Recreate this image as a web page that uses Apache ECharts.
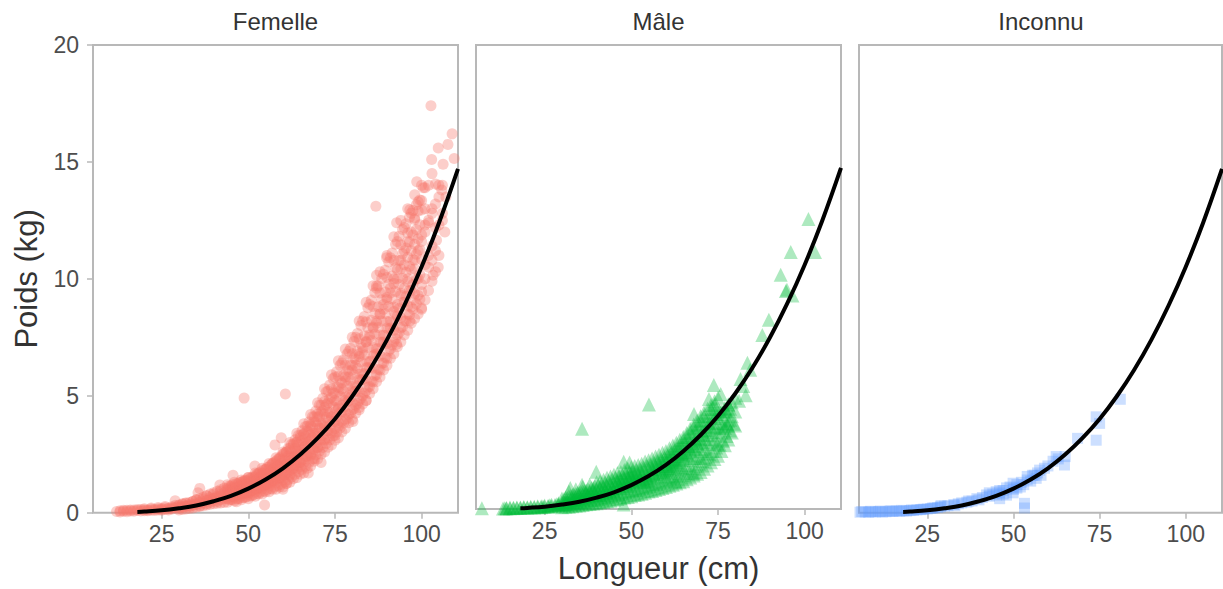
<!DOCTYPE html>
<html>
<head>
<meta charset="utf-8">
<script src="https://cdn.jsdelivr.net/npm/echarts@6/dist/echarts.min.js"></script>
<style>
html,body{margin:0;padding:0;background:#fff;}
#chart{width:1223px;height:589px;}
</style>
</head>
<body>
<div id="chart"></div>
<script>
// ---- Data ----
const facets = ['Femelle', 'Mâle', 'Inconnu'];
const xTicks = [25, 50, 75, 100];

// Fitted length-weight curve
const curveL = [18, 20, 25, 30, 35, 40, 45, 50, 55, 60, 65, 70, 75, 80, 85, 90, 95, 100, 105, 110.5];
const curveW = [0.035, 0.048, 0.10, 0.19, 0.31, 0.49, 0.72, 1.03, 1.42, 1.90, 2.49, 3.19, 4.01, 4.98, 6.10, 7.39, 8.86, 10.52, 12.39, 14.7];

// Femelle points [longueur, poids]
const femelle = [
[12,0.05],[13,0.08],[14,0.06],[15,0.1],[16,0.07],[17,0.12],[18,0.09],[19,0.14],[20,0.08],[20,0.17],
[21,0.12],[22,0.1],[22,0.2],[23,0.15],[24,0.12],[24,0.22],[25,0.1],[25,0.18],[26,0.14],[26,0.26],
[27,0.2],[27,0.12],[28,0.25],[28,0.16],[28.9,0.51],[29,0.2],[29,0.32],[30,0.18],[30,0.3],[31,0.22],
[31,0.38],[32,0.28],[32,0.42],[33,0.25],[33,0.35],[34,0.3],[34,0.48],[35,0.35],[35,0.55],[35.5,0.85],
[36,0.3],[36,0.45],[36,1.04],[37,0.4],[37,0.6],[38,0.38],[38,0.52],[38,0.72],[39,0.45],[39,0.65],
[40,0.5],[40,0.62],[40,0.8],[41,0.48],[41,0.7],[41.8,1.18],[42,0.55],[42,0.78],[42,0.92],[43,0.6],
[43,0.85],[44,0.62],[44,0.75],[44,0.98],[45,0.7],[45,0.9],[45,1.1],[45.6,1.6],[46,0.68],[46,0.85],
[46,1.05],[46.6,0.47],[47,0.78],[47,0.95],[47,1.2],[48,0.82],[48,1.05],[48,1.3],[48.8,4.9],[49,0.88],
[49,1.12],[49,1.4],[50,0.85],[50,1.0],[50,1.2],[50,1.5],[51,0.95],[51,1.15],[51,1.4],[51.9,2.0],
[52,1.0],[52,1.25],[52,1.55],[53,1.1],[53,1.35],[53,1.7],[54,1.15],[54,1.4],[54,1.7],[54.7,0.33],
[55,1.2],[55,1.5],[55,1.85],[56,1.3],[56,1.6],[56,1.95],[57,1.4],[57,1.7],[57,2.1],[57.7,2.9],
[58,1.45],[58,1.8],[58,2.2],[59,1.5],[59,1.9],[59,2.35],[59.5,3.2],[60,1.0],[60,1.6],[60,2.0],
[60,2.5],[60.7,5.08],[61,1.25],[61,1.7],[61,2.1],[61,2.6],[62,1.6],[62,1.8],[62,2.2],[62,2.75],
[63,1.9],[63,2.35],[63,2.9],[64,2.0],[64,2.5],[64,3.0],[65,1.95],[65,2.15],[65,2.6],[65,3.2],
[66,2.3],[66,2.8],[66,3.35],[67,2.4],[67,2.95],[67,3.5],[67.3,1.7],[68,2.5],[68,3.1],[68,3.7],
[69,2.3],[69,2.7],[69,3.3],[69,3.9],[70,2.8],[70,3.4],[70,4.1],[71,2.9],[71,2.15],[71,3.6],
[71,4.3],[72,3.1],[72,3.75],[72,4.5],[73,3.2],[73,3.95],[73,4.7],[74,3.4],[74,4.1],[74,4.95],
[75,3.3],[75,3.6],[75,4.3],[75,5.1],[76,3.7],[76,4.45],[76,5.35],[77,3.9],[77,4.6],[77,5.55],
[78,4.0],[78,4.8],[78,5.8],[79,4.2],[79,5.0],[79,6.05],[80,4.4],[80,5.2],[80,6.3],[80.2,3.9],
[81,4.6],[81,5.45],[81,6.55],[82,4.5],[82,4.8],[82,5.7],[82,6.8],[83,5.0],[83,5.95],[83,7.05],
[84,4.8],[84,5.2],[84,6.2],[84,7.3],[85,5.4],[85,6.45],[85,7.6],[86,5.6],[86,6.7],[86,7.9],
[87,5.9],[87,7.0],[87,8.2],[87,9.7],[87,10.15],[86.8,13.1],[88,6.1],[88,7.3],[88,8.5],[89,6.4],
[89,7.6],[89,8.9],[89.9,10.9],[90,6.6],[90,7.9],[90,9.2],[91,7.0],[91,8.2],[91,9.6],[92,7.3],
[92,8.6],[92,10.0],[92.8,7.2],[92.8,12.4],[93,7.6],[93,8.9],[93,10.4],[94,7.9],[94,9.3],[94,10.8],
[95,8.2],[95,9.6],[95,11.2],[96,8.5],[96,10.0],[96,11.6],[96.6,8.2],[96.6,12.95],[97,8.8],[97,10.4],
[97,12.0],[98,9.1],[98,10.8],[98,12.6],[98.6,14.15],[99,9.3],[99,11.2],[99,12.9],[100,8.75],[100,9.45],
[100,11.6],[100,13.35],[100.5,13.9],[101,10.0],[101,12.0],[101,13.0],[102,10.5],[102,12.4],[102.7,17.4],[102.9,15.1],
[103,10.8],[103,12.8],[103.3,10.15],[104,11.2],[104,13.2],[104.3,11.65],[104.8,15.6],[104.8,10.5],[105,12.3],[105,14.0],
[105.8,13.8],[106,12.8],[106.2,14.9],[106.7,12.0],[107,13.5],[107.6,15.75],[108.8,16.2],[109.4,15.15],
[13,0.03],[15,0.04],[17,0.06],[19,0.07],[21,0.08],[23,0.09],[25,0.14],[27,0.16],[29,0.24],[14,0.1],
[16,0.12],[18,0.14],[20,0.13],[22,0.16],[24,0.17],[26,0.21],[28,0.2],
[30,0.12],[30,0.22],[30,0.33],[31,0.14],[31,0.25],[31,0.36],[32,0.16],[32,0.28],[32,0.4],[33,0.18],
[33,0.3],[33,0.44],[34,0.2],[34,0.34],[34,0.48],[35,0.24],[35,0.38],[35,0.55],[36,0.27],[36,0.42],
[36,0.6],[37,0.3],[37,0.47],[37,0.66],[38,0.33],[38,0.52],[38,0.72],[39,0.36],[39,0.57],[39,0.8],
[40,0.38],[40,0.6],[40,0.85],[41,0.4],[41,0.65],[41,0.92],[42,0.42],[42,0.7],[42,0.98],[43,0.44],
[43,0.75],[43,1.05],
[44,0.45],[44,0.6],[44,0.75],[44,0.9],[44,1.05],[44,1.2],[45,0.55],[45,0.75],[45,0.95],[45,1.15],
[46,0.5],[46,0.66],[46,0.82],[46,0.98],[46,1.14],[46,1.3],[47,0.6],[47,0.8],[47,1.0],[47,1.25],
[48,0.55],[48,0.72],[48,0.89],[48,1.06],[48,1.23],[48,1.4],[49,0.65],[49,0.85],[49,1.1],[49,1.35],
[50,0.6],[50,0.78],[50,0.96],[50,1.14],[50,1.32],[50,1.5],[51,0.72],[51,0.95],[51,1.2],[51,1.5],
[52,0.7],[52,0.9],[52,1.1],[52,1.3],[52,1.5],[52,1.7],[53,0.8],[53,1.05],[53,1.35],[53,1.65],
[54,0.8],[54,1.02],[54,1.24],[54,1.46],[54,1.68],[54,1.9],[55,0.9],[55,1.2],[55,1.5],[55,1.85],
[56,0.9],[56,1.14],[56,1.38],[56,1.62],[56,1.86],[56,2.1],[57,1.0],[57,1.35],[57,1.7],[57,2.1],
[58,1.0],[58,1.27],[58,1.54],[58,1.81],[58,2.08],[58,2.35],[59,1.1],[59,1.45],[59,1.85],[59,2.3],
[60,1.1],[60,1.4],[60,1.7],[60,2.0],[60,2.3],[60,2.6],[61,1.25],[61,1.65],[61,2.05],[61,2.6],
[62,1.3],[62,1.64],[62,1.98],[62,2.32],[62,2.66],[62,3.0],[63,1.45],[63,1.9],[63,2.4],[63,2.95],
[64,1.5],[64,1.88],[64,2.26],[64,2.64],[64,3.02],[64,3.4],[65,1.65],[65,2.15],[65,2.7],[65,3.3],
[66,1.7],[66,2.12],[66,2.54],[66,2.96],[66,3.38],[66,3.8],[67,1.9],[67,2.45],[67,3.05],[67,3.7],
[68,2.0],[68,2.44],[68,2.88],[68,3.32],[68,3.76],[68,4.2],[69,2.2],[69,2.75],[69,3.4],[69,4.1],
[70,2.3],[70,2.78],[70,3.26],[70,3.74],[70,4.22],[70,4.7],[71,2.5],[71,3.1],[71,3.8],[71,4.6],
[72,2.6],[72,3.14],[72,3.68],[72,4.22],[72,4.76],[72,5.3],[73,2.8],[73,3.5],[73,4.3],[73,5.2],
[74,2.9],[74,3.5],[74,4.1],[74,4.7],[74,5.3],[74,5.9],[75,3.1],[75,3.9],[75,4.8],[75,5.8],
[76,3.2],[76,3.86],[76,4.52],[76,5.18],[76,5.84],[76,6.5],[77,3.45],[77,4.3],[77,5.3],[77,6.4],
[78,3.6],[78,4.28],[78,4.96],[78,5.64],[78,6.32],[78,7.0],[79,3.85],[79,4.8],[79,5.8],[79,6.9],
[80,4.0],[80,4.7],[80,5.4],[80,6.1],[80,6.8],[80,7.5],[81,4.25],[81,5.2],[81,6.3],[81,7.5],
[82,4.4],[82,5.16],[82,5.92],[82,6.68],[82,7.44],[82,8.2],[83,4.65],[83,5.7],[83,6.9],[83,8.2],
[84,4.8],[84,5.64],[84,6.48],[84,7.32],[84,8.16],[84,9.0],[85,5.1],[85,6.2],[85,7.5],[85,8.9],
[86,5.3],[86,6.18],[86,7.06],[86,7.94],[86,8.82],[86,9.7],[87,5.6],[87,6.8],[87,8.1],[87,9.6],
[88,5.8],[88,6.7],[88,7.6],[88,8.5],[88,9.4],[88,10.3],[89,6.1],[89,7.3],[89,8.7],[89,10.2],
[90,6.3],[90,7.24],[90,8.18],[90,9.12],[90,10.06],[90,11.0],[91,6.6],[91,7.9],[91,9.4],[91,10.9],
[92,6.8],[92,7.8],[92,8.8],[92,9.8],[92,10.8],[92,11.8],[93,7.1],[93,8.4],[93,10.0],[93,11.6],
[94,7.3],[94,8.34],[94,9.38],[94,10.42],[94,11.46],[94,12.5],[95,7.6],[95,9.0],[95,10.6],[95,12.2],
[96,7.8],[96,8.84],[96,9.88],[96,10.92],[96,11.96],[96,13.0],[97,8.1],[97,9.5],[97,11.2],[97,12.8],
[98,8.3],[98,9.36],[98,10.42],[98,11.48],[98,12.54],[98,13.6],[99,8.5],[99,10.0],[99,11.7],[99,13.3],
[100,8.7],[100,9.76],[100,10.82],[100,11.88],[100,12.94],[100,14.0],[101,9.1],[101,10.6],[101,12.3],[101,13.9],
[102,9.5],[102,11.0],[102,12.5],[102,14.0],[103,9.9],[103,11.4],[103,13.0],[103,14.5],
[104,10.3],[104,12.18],[104,14.06],[105,11.0],[105,13.5],[106,12.5],[106,14.0],
[44.5,0.54],[44.5,0.69],[44.5,0.84],[44.5,0.99],[44.5,1.14],[45.5,0.57],[45.5,0.72],[45.5,0.88],[45.5,1.04],[45.5,1.19],
[46.5,0.59],[46.5,0.75],[46.5,0.92],[46.5,1.08],[46.5,1.24],[47.5,0.62],[47.5,0.79],[47.5,0.96],[47.5,1.12],[47.5,1.29],
[48.5,0.65],[48.5,0.82],[48.5,0.99],[48.5,1.16],[48.5,1.33],[49.5,0.68],[49.5,0.85],[49.5,1.03],[49.5,1.21],[49.5,1.38],
[50.5,0.71],[50.5,0.9],[50.5,1.09],[50.5,1.27],[50.5,1.46],[51.5,0.77],[51.5,0.96],[51.5,1.16],[51.5,1.36],[51.5,1.55],
[52.5,0.82],[52.5,1.03],[52.5,1.24],[52.5,1.44],[52.5,1.65],[53.5,0.88],[53.5,1.09],[53.5,1.31],[53.5,1.53],[53.5,1.74],
[54.5,0.93],[54.5,1.16],[54.5,1.39],[54.5,1.61],[54.5,1.84],[55.5,0.99],[55.5,1.22],[55.5,1.46],[55.5,1.7],[55.5,1.93],
[56.5,1.04],[56.5,1.29],[56.5,1.54],[56.5,1.79],[56.5,2.04],[57.5,1.1],[57.5,1.37],[57.5,1.63],[57.5,1.9],[57.5,2.16],
[58.5,1.16],[58.5,1.44],[58.5,1.72],[58.5,2.0],[58.5,2.27],[59.5,1.22],[59.5,1.51],[59.5,1.81],[59.5,2.1],[59.5,2.39],
[60.5,1.31],[60.5,1.62],[60.5,1.93],[60.5,2.24],[60.5,2.55],[61.5,1.42],[61.5,1.75],[61.5,2.08],[61.5,2.41],[61.5,2.74],
[62.5,1.53],[62.5,1.88],[62.5,2.23],[62.5,2.58],[62.5,2.93],[63.5,1.64],[63.5,2.01],[63.5,2.38],[63.5,2.75],[63.5,3.12],
[64.5,1.75],[64.5,2.14],[64.5,2.53],[64.5,2.92],[64.5,3.31],[65.5,1.86],[65.5,2.27],[65.5,2.68],[65.5,3.09],[65.5,3.5],
[66.5,1.99],[66.5,2.41],[66.5,2.84],[66.5,3.26],[66.5,3.69],[67.5,2.15],[67.5,2.58],[67.5,3.02],[67.5,3.45],[67.5,3.88],
[68.5,2.3],[68.5,2.75],[68.5,3.2],[68.5,3.65],[68.5,4.1],[69.5,2.47],[69.5,2.94],[69.5,3.41],[69.5,3.88],[69.5,4.35],
[70.5,2.63],[70.5,3.12],[70.5,3.62],[70.5,4.11],[70.5,4.6],[71.5,2.79],[71.5,3.32],[71.5,3.84],[71.5,4.36],[71.5,4.89],
[72.5,2.96],[72.5,3.51],[72.5,4.07],[72.5,4.62],[72.5,5.17],[73.5,3.12],[73.5,3.71],[73.5,4.29],[73.5,4.87],[73.5,5.46],
[74.5,3.29],[74.5,3.9],[74.5,4.52],[74.5,5.13],[74.5,5.74],[75.5,3.45],[75.5,4.1],[75.5,4.74],[75.5,5.38],[75.5,6.03],
[76.5,3.63],[76.5,4.3],[76.5,4.97],[76.5,5.63],[76.5,6.3],[77.5,3.84],[77.5,4.51],[77.5,5.19],[77.5,5.87],[77.5,6.54],
[78.5,4.04],[78.5,4.73],[78.5,5.42],[78.5,6.1],[78.5,6.79],[79.5,4.25],[79.5,4.94],[79.5,5.64],[79.5,6.33],[79.5,7.03],
[80.5,4.46],[80.5,5.17],[80.5,5.89],[80.5,6.61],[80.5,7.32],[81.5,4.67],[81.5,5.42],[81.5,6.17],[81.5,6.91],[81.5,7.66],
[82.5,4.89],[82.5,5.67],[82.5,6.45],[82.5,7.23],[82.5,8.01],[83.5,5.11],[83.5,5.93],[83.5,6.75],[83.5,7.57],[83.5,8.39],
[84.5,5.36],[84.5,6.21],[84.5,7.06],[84.5,7.91],[84.5,8.76],[85.5,5.62],[85.5,6.49],[85.5,7.36],[85.5,8.23],[85.5,9.1],
[86.5,5.87],[86.5,6.76],[86.5,7.64],[86.5,8.52],[86.5,9.41],[87.5,6.13],[87.5,7.02],[87.5,7.92],[87.5,8.81],[87.5,9.7],
[88.5,6.39],[88.5,7.29],[88.5,8.2],[88.5,9.11],[88.5,10.02],[89.5,6.65],[89.5,7.58],[89.5,8.51],[89.5,9.44],[89.5,10.37],
[90.5,6.91],[90.5,7.86],[90.5,8.82],[90.5,9.77],[90.5,10.72],[91.5,7.17],[91.5,8.16],[91.5,9.14],[91.5,10.12],[91.5,11.11],
[92.5,7.44],[92.5,8.45],[92.5,9.46],[92.5,10.47],[92.5,11.48],[93.5,7.7],[93.5,8.73],[93.5,9.76],[93.5,10.79],[93.5,11.82],
[94.5,7.95],[94.5,8.99],[94.5,10.03],[94.5,11.07],[94.5,12.11],[95.5,8.2],[95.5,9.24],[95.5,10.28],[95.5,11.32],[95.5,12.36],
[96.5,8.45],[96.5,9.5],[96.5,10.54],[96.5,11.58],[96.5,12.63],[97.5,8.71],[97.5,9.76],[97.5,10.82],[97.5,11.87],[97.5,12.92],
[98.5,8.93],[98.5,9.99],[98.5,11.05],[98.5,12.11],[98.5,13.17],[99.5,9.13],[99.5,10.19],[99.5,11.25],[99.5,12.31],[99.5,13.37]
];

// Mâle points [longueur, poids]
const male = [
[6.9,0.03],[13,0.02],[14,0.04],[15,0.03],[16,0.05],[17,0.04],[18,0.06],[19,0.05],[20,0.08],[21,0.06],
[22,0.1],[23,0.08],[24,0.12],[25,0.1],[26,0.14],[27,0.12],[28,0.18],[29,0.15],[29,0.25],[30,0.2],
[30,0.3],[31,0.22],[31,0.35],[32,0.28],[32.4,0.9],[33,0.3],[33,0.42],[34,0.35],[34,0.5],[35,0.38],
[35,0.55],[35.8,3.46],[35.8,1.04],[36,0.42],[36,0.6],[37,0.45],[37,0.65],[38,0.5],[38,0.72],[39,0.55],
[39,0.8],[39.9,1.61],[40,0.6],[40,0.85],[41,0.62],[41,0.9],[42,0.68],[42,0.95],[43,0.72],[43,1.0],
[44,0.75],[44,1.05],[45,0.8],[45,1.1],[46,0.85],[46,1.15],[47,0.9],[47,1.2],[47.8,2.04],[47.8,0.19],
[48,0.92],[48,1.25],[49,0.98],[49,1.3],[49.5,2.0],[50,1.0],[50,1.35],[50,1.55],[51,1.05],[51,1.4],
[52,1.1],[52,1.45],[53,1.15],[53,1.5],[54,1.2],[54,1.6],[55,1.25],[55,1.7],[55.1,4.5],[56,1.3],
[56,1.75],[57,1.35],[57,1.85],[58,1.4],[58,1.95],[59,1.5],[59,2.05],[60,1.4],[60,1.6],[60,2.15],
[61,1.55],[61,1.75],[61,2.3],[62,1.65],[62,1.9],[62,2.45],[62.8,1.18],[63,1.7],[63,2.0],[63,2.6],
[64,1.8],[64,2.15],[64,2.75],[65,1.75],[65,2.3],[65,2.95],[66,1.9],[66,2.4],[66,3.1],[67,2.1],
[67,2.55],[67,3.3],[68,1.54],[68,2.2],[68,2.7],[68,3.5],[68.1,4.1],[69,2.3],[69,2.85],[69,3.6],
[70,2.2],[70,2.5],[70,3.0],[70,3.8],[71,2.6],[71,3.2],[71,4.0],[72,2.4],[72,2.8],[72,3.4],
[72.4,4.74],[73,2.9],[73,3.55],[73,4.3],[73.8,5.34],[74,3.0],[74,3.7],[74,4.5],[74.8,2.82],[75,3.2],
[75,3.9],[75.8,4.96],[76,3.3],[76,4.1],[77,3.5],[77,4.3],[77.9,3.6],[78,3.8],[78,4.5],[79,4.0],
[79.6,3.67],[80,4.2],[80,4.8],[81.1,4.67],[82.3,5.3],[83.5,6.3],[84.3,6.0],[87.8,7.5],[89.7,8.16],[93.1,10.1],
[94.6,9.4],[94.9,9.45],[96,11.08],[96.5,9.2],[101.1,12.5],[103,11.08],[81.5,5.6],[83,4.9],
[14,0.02],[15,0.06],[16,0.03],[17,0.07],[18,0.04],[19,0.09],[20,0.05],[21,0.1],[22,0.07],[23,0.12],
[24,0.08],[25,0.15],[26,0.1],[27,0.18],[28,0.12],[29,0.2],[13.5,0.03],
[30,0.08],[30,0.45],[31,0.1],[31,0.5],[32,0.1],[32,0.55],[32,0.75],[33,0.12],[33,0.6],[34,0.14],
[34,0.65],[34,0.85],[35,0.15],[35,0.7],[36,0.17],[36,0.75],[36,0.95],[37,0.2],[37,0.8],[38,0.22],
[38,0.8],[38,1.05],[39,0.24],[39,0.9],[40,0.25],[40,0.55],[40,1.15],[41,0.28],[41,0.6],[41,1.2],
[42,0.3],[42,0.62],[42,1.26],[43,0.33],[43,0.68],[43,1.35],[44,0.36],[44,0.7],[44,1.4],[45,0.4],
[45,0.75],[45,1.48],[46,0.43],[46,1.2],[46,1.55],[47,0.46],[47,1.25],[47,1.6],[48,0.5],[48,1.3],
[48,1.68],[49,0.52],[49,1.35],[49,1.75],[50,0.55],[50,1.4],[50,1.8],[51,0.6],[51,1.45],[51,1.85],
[52,0.62],[52,1.5],[52,1.9],[53,0.66],[53,1.55],[53,1.95],[54,0.7],[54,1.15],[54,2.05],[55,0.75],
[55,1.2],[55,2.1],[56,0.78],[56,1.72],[56,2.18],[57,0.82],[57,1.8],[57,2.26],[58,0.86],[58,1.86],
[58,2.34],[59,0.9],[59,1.94],[59,2.42],[60,0.95],[60,2.0],[60,2.5],[61,1.0],[61,2.08],[61,2.62],
[62,1.05],[62,2.18],[62,2.74],[63,1.1],[63,2.27],[63,2.86],[64,1.15],[64,2.37],[64,2.98],[65,1.2],
[65,2.46],[65,3.1],[66,1.28],[66,2.62],[66,3.28],[67,1.36],[67,2.78],[67,3.46],[68,1.44],[68,2.92],
[68,3.64],[69,1.52],[69,3.06],[69,3.82],[70,1.6],[70,3.2],[70,4.0],[71,1.74],[71,3.38],[71,4.16],
[72,1.88],[72,3.56],[72,4.32],[73,2.02],[73,3.74],[73,4.48],[74,2.16],[74,3.92],[74,4.64],[75,2.3],
[75,4.0],[75,4.8],[76,2.5],[76,4.2],[77,2.75],[77,4.35],[78,3.0],[78,4.5],[79,3.3],[79,4.6],
[80,3.6],[50.5,1.2],[52.5,1.3],[54.5,1.45],[56.5,1.55],[58.5,1.7],[60.5,1.85],[62.5,2.1],[64.5,2.4],
[66.5,2.7],[68.5,3.0],[70.5,3.35],[72.5,3.7],[74.5,4.1],[76.5,3.7],[42.5,0.82],[44.5,0.9],[46.5,1.0],[48.5,1.1],
[37.5,0.55],[39.5,0.68],[33.5,0.38],[31.5,0.3],[28.5,0.2],[26.5,0.16],[24.5,0.11],
[30.5,0.16],[30.5,0.29],[30.5,0.42],[31.5,0.18],[31.5,0.33],[31.5,0.47],[32.5,0.2],[32.5,0.38],[32.5,0.56],[33.5,0.23],
[33.5,0.42],[33.5,0.62],[34.5,0.25],[34.5,0.47],[34.5,0.69],[35.5,0.28],[35.5,0.5],[35.5,0.73],[36.5,0.3],[36.5,0.54],
[36.5,0.78],[37.5,0.34],[37.5,0.6],[37.5,0.85],[38.5,0.37],[38.5,0.64],[38.5,0.91],[39.5,0.39],[39.5,0.68],[39.5,0.97],
[40.5,0.42],[40.5,0.72],[40.5,1.03],[41.5,0.45],[41.5,0.76],[41.5,1.07],[42.5,0.48],[42.5,0.81],[42.5,1.13],[43.5,0.52],
[43.5,0.86],[43.5,1.21],[44.5,0.56],[44.5,0.91],[44.5,1.26],[45.5,0.6],[45.5,0.97],[45.5,1.34],[46.5,0.64],[46.5,1.01],
[46.5,1.39],[47.5,0.67],[47.5,1.06],[47.5,1.45],[48.5,0.71],[48.5,1.11],[48.5,1.52],[49.5,0.75],[49.5,1.16],[49.5,1.57],
[50.5,0.79],[50.5,1.2],[50.5,1.61],[51.5,0.82],[51.5,1.25],[51.5,1.67],[52.5,0.85],[52.5,1.28],[52.5,1.71],[53.5,0.9],
[53.5,1.34],[53.5,1.78],[54.5,0.95],[54.5,1.4],[54.5,1.85],[55.5,0.99],[55.5,1.45],[55.5,1.91],[56.5,1.04],[56.5,1.51],
[56.5,1.98],[57.5,1.08],[57.5,1.57],[57.5,2.06],[58.5,1.13],[58.5,1.63],[58.5,2.13],[59.5,1.18],[59.5,1.69],[59.5,2.2],
[60.5,1.24],[60.5,1.77],[60.5,2.29],[61.5,1.3],[61.5,1.85],[61.5,2.4],[62.5,1.36],[62.5,1.94],[62.5,2.51],[63.5,1.42],
[63.5,2.02],[63.5,2.62],[64.5,1.48],[64.5,2.1],[64.5,2.73],[65.5,1.56],[65.5,2.21],[65.5,2.86],[66.5,1.66],[66.5,2.34],
[66.5,3.03],[67.5,1.76],[67.5,2.47],[67.5,3.19],[68.5,1.86],[68.5,2.6],[68.5,3.35],[69.5,1.95],[69.5,2.73],[69.5,3.52],
[70.5,2.07],[70.5,2.87],[70.5,3.68],[71.5,2.22],[71.5,3.02],[71.5,3.83],[72.5,2.36],[72.5,3.17],[72.5,3.99],[73.5,2.5],
[73.5,3.32],[73.5,4.15],[74.5,2.65],[74.5,3.47],[74.5,4.3],[75.5,2.77],[75.5,3.5],[75.5,4.23],[76.5,2.94],[76.5,3.56],
[76.5,4.19],[77.5,3.15],[77.5,3.69],[77.5,4.23],[78.5,3.38],[78.5,3.85],[78.5,4.32]
];

// Inconnu points [longueur, poids]
const inconnu = [
[5.5,0.02],[7,0.03],[8,0.02],[9,0.04],[10,0.03],[11,0.05],[12,0.03],[13,0.04],[14,0.06],[15,0.05],
[16,0.07],[17,0.06],[18,0.08],[19,0.07],[20,0.09],[21,0.1],[22,0.12],[23,0.13],[24,0.15],[25,0.16],
[26,0.18],[27,0.2],[28,0.22],[28.8,0.25],[30,0.28],[31,0.3],[32.7,0.35],[34,0.38],[35,0.42],[36.5,0.45],
[38,0.5],[39.4,0.6],[40,0.55],[41,0.65],[42.2,0.76],[43,0.7],[44,0.8],[45,0.9],[46,0.6],[46,0.85],
[47,0.95],[48,1.06],[48,0.75],[49,1.1],[49.9,1.26],[49.9,0.85],[51,1.2],[52.3,1.3],[53.2,0.4],[53.2,0.2],
[54,1.4],[55.5,1.6],[56.6,1.47],[57.6,1.82],[58,1.6],[61.5,2.2],[62.4,2.4],[64.8,2.04],[68.6,3.18],[74,4.1],
[74,3.1],[75,3.82],[81,4.85],
[6,0.05],[8.5,0.06],[11.5,0.07],[14.5,0.09],[17.5,0.1],[20.5,0.12],[23.5,0.14],[26.5,0.2],[29,0.3],[33,0.3],
[37,0.5],[43,0.85],[45,0.75],[47,0.8],[50,1.0],[51,1.05],[53,1.2],[55,1.35],[56,1.6],[57,1.7],
[59,1.9],[60,2.0],[63,2.3],[65,2.4],[46,0.95],[52,1.1],[54,1.55]
];

// ---- Chart ----
const FONT = '"Liberation Sans", Arial, sans-serif';
const curve = curveL.map((l, i) => [l, curveW[i]]);
const pointSets = [femelle, male, inconnu];
const colors = ['rgba(248,118,109,0.45)', 'rgba(0,186,56,0.40)', 'rgba(97,156,255,0.40)'];
const symbols = ['circle', 'triangle', 'rect'];
const symSizes = [11, 14, 11];
const lefts = [93, 476, 859];
const widths = [365, 365, 363];
const centers = [275.5, 658.5, 1041];

const grid = lefts.map((l, i) => ({
  left: l, top: 45, width: widths[i], height: 467.7,
  show: true, borderColor: '#b8b8b8', borderWidth: 2, backgroundColor: 'transparent', containLabel: false
}));

const xAxis = facets.map((f, i) => ({
  type: 'value', gridIndex: i, min: 5.2, max: 110.5,
  axisLine: { show: false },
  axisTick: { show: true, customValues: xTicks, length: 6, lineStyle: { color: '#b8b8b8', width: 1.5 } },
  axisLabel: { show: true, customValues: xTicks, color: '#4d4d4d', fontSize: 23, fontFamily: FONT, margin: 10 },
  splitLine: { show: false },
  name: i === 1 ? 'Longueur (cm)' : '',
  nameLocation: 'middle', nameGap: 44,
  nameTextStyle: { color: '#333', fontSize: 31, fontFamily: FONT }
}));

const yAxis = facets.map((f, i) => ({
  type: 'value', gridIndex: i, min: 0, max: 20, interval: 5,
  axisLine: { show: false },
  axisTick: { show: i === 0, length: 6, lineStyle: { color: '#b8b8b8', width: 1.5 } },
  axisLabel: { show: i === 0, color: '#4d4d4d', fontSize: 23, fontFamily: FONT, margin: 14 },
  splitLine: { show: false },
  name: i === 0 ? 'Poids (kg)' : '',
  nameLocation: 'middle', nameRotate: 90, nameGap: 51,
  nameTextStyle: { color: '#333', fontSize: 31, fontFamily: FONT }
}));

const series = [];
facets.forEach((f, i) => {
  series.push({
    type: 'scatter', name: f, xAxisIndex: i, yAxisIndex: i,
    data: pointSets[i], symbol: symbols[i], symbolSize: symSizes[i],
    itemStyle: { color: colors[i] }, silent: true, z: 2, large: false
  });
  series.push({
    type: 'line', xAxisIndex: i, yAxisIndex: i, data: curve, smooth: 0.4,
    showSymbol: false, lineStyle: { color: '#000', width: 4 }, silent: true, z: 3
  });
});

const graphic = facets.map((f, i) => ({
  type: 'text', x: centers[i], y: 21,
  style: { text: f, fill: '#333', font: '24px ' + FONT, textAlign: 'center', textVerticalAlign: 'middle' }
}));

const chart = echarts.init(document.getElementById('chart'), null, { renderer: 'svg' });
chart.setOption({
  animation: false,
  backgroundColor: '#fff',
  grid, xAxis, yAxis, series, graphic
});
</script>
</body>
</html>
